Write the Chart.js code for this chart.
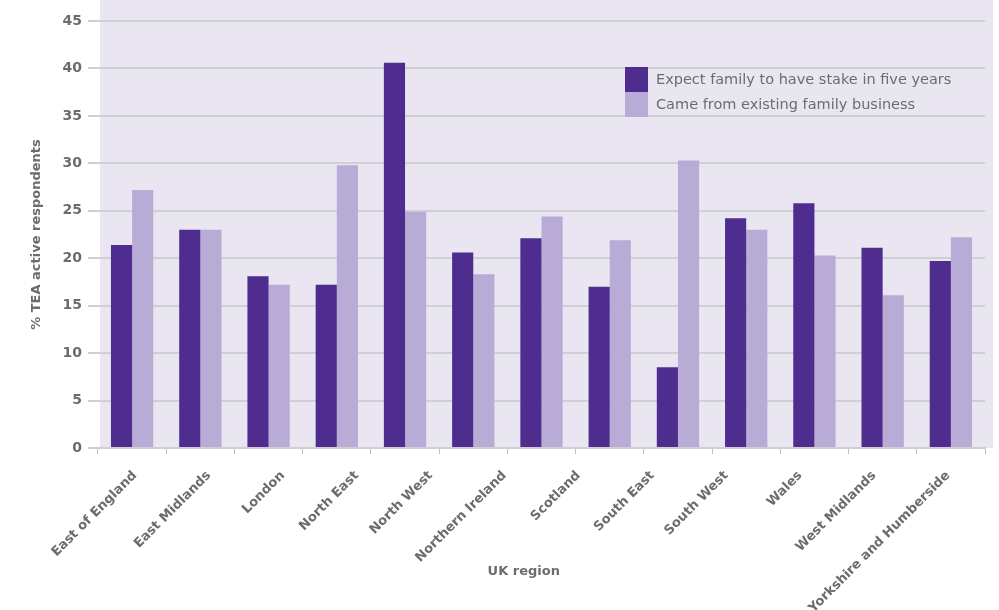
<!DOCTYPE html>
<html>
<head>
<meta charset="utf-8">
<script src="https://cdn.jsdelivr.net/npm/chart.js@4"></script>
<style>
  html, body { margin: 0; padding: 0; background: #ffffff; }
  #wrap { width: 999px; height: 610px; }
</style>
</head>
<body>
<div id="wrap"><canvas id="regionChart" width="999" height="610"></canvas></div>
<script>
// region names printed under the axis (12 labels)
const regions = ['East of England', 'East Midlands', 'London', 'North East', 'North West',
    'Northern Ireland', 'Scotland', 'South East', 'South West', 'Wales', 'West Midlands',
    'Yorkshire and Humberside'];
// the picture draws 13 bar pairs, one more than there are labels
const barSlots = [...regions, ''];
const expectStake = [21.4, 23.0, 18.1, 17.2, 40.6, 20.6, 22.1, 17.0, 8.5, 24.2, 25.8, 21.1, 19.7];
const familyBusiness = [27.2, 23.0, 17.2, 29.8, 24.9, 18.3, 24.4, 21.9, 30.3, 23.0, 20.3, 16.1, 22.2];
const yTicks = [0, 5, 10, 15, 20, 25, 30, 35, 40, 45];

const textGrey = '#6b6c70';
const dark = '#4f2d8f';
const light = '#b8abd5';

// lavender panel behind the bars
const panelBg = {
    id: 'panelBg',
    beforeDraw(chart) {
        const { ctx, chartArea } = chart;
        ctx.save();
        ctx.fillStyle = '#e9e6f1';
        ctx.fillRect(chartArea.left + 2, 0, chartArea.right - chartArea.left + 6, chartArea.bottom);
        ctx.restore();
    }
};

// legend sits inside the plot, boxes stacked with no gap
const innerLegend = {
    id: 'innerLegend',
    afterDatasetsDraw(chart) {
        const { ctx, chartArea } = chart;
        const x = chartArea.right - 360;
        let y = chartArea.top + 46;
        ctx.save();
        ctx.font = '14.5px "DejaVu Sans", sans-serif';
        ctx.textBaseline = 'middle';
        chart.data.datasets.forEach(ds => {
            ctx.fillStyle = ds.backgroundColor;
            ctx.fillRect(x, y, 23, 25);
            ctx.fillStyle = textGrey;
            ctx.fillText(ds.label, x + 31, y + 13);
            y += 25;
        });
        ctx.restore();
    }
};

// x title drawn by hand, it overlaps the long rotated labels
const xTitle = {
    id: 'xTitle',
    afterDraw(chart) {
        const { ctx, chartArea } = chart;
        ctx.save();
        ctx.font = 'bold 13px "DejaVu Sans", sans-serif';
        ctx.fillStyle = textGrey;
        ctx.textAlign = 'center';
        ctx.textBaseline = 'middle';
        ctx.fillText('UK region', chartArea.left + (chartArea.right - chartArea.left) * 0.48, chartArea.bottom + 124);
        ctx.restore();
    }
};

const ctx = document.getElementById('regionChart').getContext('2d');
new Chart(ctx, {
    type: 'bar',
    data: {
        labels: barSlots,
        datasets: [
            {
                label: 'Expect family to have stake in five years',
                data: expectStake,
                backgroundColor: dark,
                categoryPercentage: 0.62,
                barPercentage: 1.0
            },
            {
                label: 'Came from existing family business',
                data: familyBusiness,
                backgroundColor: light,
                categoryPercentage: 0.62,
                barPercentage: 1.0
            }
        ]
    },
    options: {
        responsive: false,
        animation: false,
        layout: { padding: { top: 21, right: 14, left: 0, bottom: 0 } },
        plugins: {
            legend: { display: false },
            tooltip: { enabled: false }
        },
        scales: {
            x: {
                position: 'bottom',
                ticks: { display: false },
                grid: {
                    display: true,
                    drawOnChartArea: false,
                    offset: true,
                    tickLength: 6,
                    color: '#c3b8de',
                    lineWidth: 1
                },
                border: { display: true, color: '#cfced4', width: 2 },
                afterFit(scale) { scale.height = 8; }
            },
            xLabels: {
                type: 'category',
                position: 'bottom',
                labels: regions,
                offset: true,
                grid: { display: false, drawTicks: false },
                border: { display: false },
                ticks: {
                    autoSkip: false,
                    maxRotation: 45,
                    minRotation: 45,
                    padding: 12,
                    color: textGrey,
                    font: { family: '"DejaVu Sans", sans-serif', size: 13, weight: 'bold' }
                },
                afterFit(scale) { scale.height = 154; }
            },
            y: {
                min: 0,
                max: 45,
                afterBuildTicks(scale) { scale.ticks = yTicks.map(v => ({ value: v })); },
                ticks: {
                    padding: 6,
                    color: textGrey,
                    font: { family: '"DejaVu Sans", sans-serif', size: 14, weight: 'bold' }
                },
                grid: { color: '#d0cfd5', lineWidth: 2, tickLength: 10 },
                border: { display: false },
                title: {
                    display: true,
                    text: '% TEA active respondents',
                    color: textGrey,
                    padding: { top: 29, bottom: 0 },
                    font: { family: '"DejaVu Sans", sans-serif', size: 13, weight: 'bold' }
                },
                afterFit(scale) { scale.width = 98; }
            }
        }
    },
    plugins: [panelBg, innerLegend, xTitle]
});
</script>
</body>
</html>
